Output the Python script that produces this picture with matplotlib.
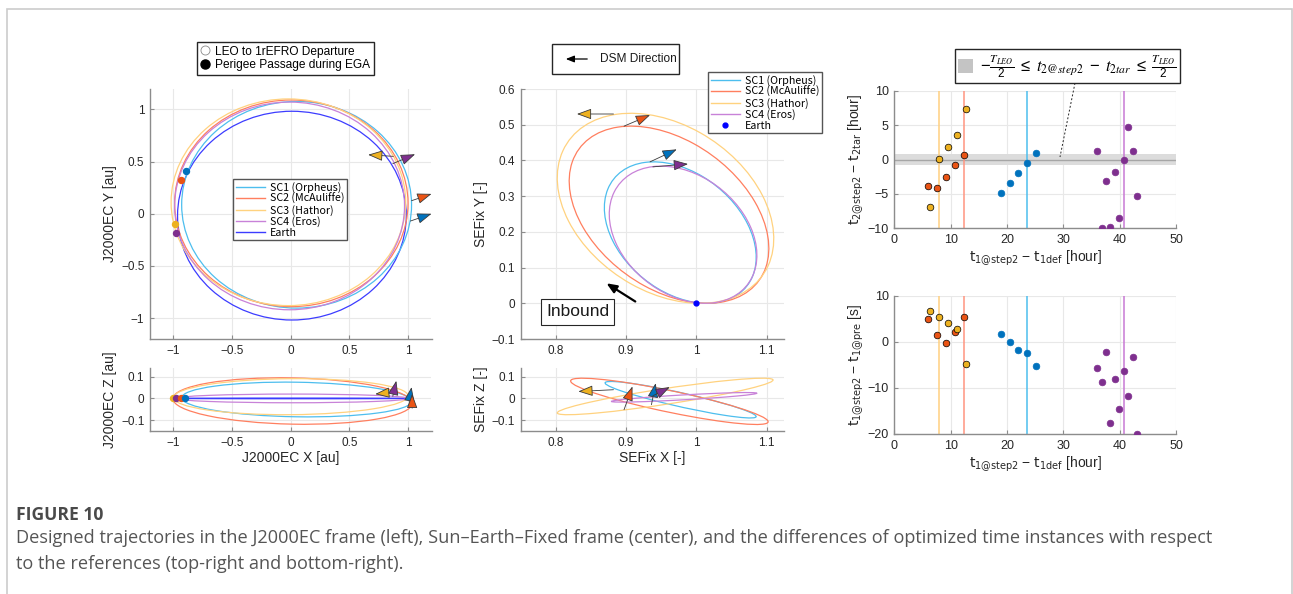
import numpy as np
import matplotlib
matplotlib.use('Agg')
import matplotlib.pyplot as plt
from matplotlib.patches import Ellipse, Rectangle, Patch, FancyArrowPatch
from matplotlib.lines import Line2D
from matplotlib.ticker import FuncFormatter

W, H = 1293, 594
plt.rcParams['font.family'] = ['Liberation Sans', 'DejaVu Sans']
plt.rcParams['mathtext.default'] = 'regular'

# ---------------- data ----------------
sc_names = ['SC1 (Orpheus)', 'SC2 (McAuliffe)', 'SC3 (Hathor)', 'SC4 (Eros)']

# orbit extents: centre x, centre y, half extent x, half extent y, tilt correlation
j2k_xy_cx = [0.05, 0.005, -0.02, -0.01]
j2k_xy_cy = [0.086, 0.10, 0.11, 0.075]
j2k_xy_rx = [0.98, 0.995, 1.00, 0.98]
j2k_xy_ry = [0.99, 0.99, 0.99, 0.995]
j2k_xy_rho = [0.0, 0.0, 0.0, 0.0]
earth_xy = [0.01, -0.018, 0.975, 1.0, 0.0]

j2k_xz_cx = [0.05, 0.015, 0.0, 0.01]
j2k_xz_cz = [-0.005, -0.012, 0.008, 0.0]
j2k_xz_rx = [0.98, 1.02, 1.0, 0.99]
j2k_xz_rz = [0.08, 0.107, 0.083, 0.02]
j2k_xz_rho = [-0.1, -0.1, 0.05, 0.0]
earth_xz = [0.01, 0.0, 0.975, 0.0015, 0.0]

sef_xy_cx = [0.977, 0.961, 0.956, 0.981]
sef_xy_cy = [0.198, 0.248, 0.266, 0.192]
sef_xy_rx = [0.108, 0.142, 0.154, 0.105]
sef_xy_ry = [0.198, 0.248, 0.266, 0.192]
sef_xy_rho = [-0.35, -0.38, -0.32, -0.30]

sef_xz_cx = [0.9775, 0.9615, 0.9555, 0.9825]
sef_xz_cz = [-0.006, -0.0135, 0.009, 0.005]
sef_xz_rx = [0.1075, 0.1405, 0.1535, 0.1035]
sef_xz_rz = [0.084, 0.1065, 0.084, 0.022]
sef_xz_rho = [-0.92, -0.88, 0.90, 0.86]

# perigee passage points (J2000EC)
peri_x = [-0.895, -0.935, -0.986, -0.975]
peri_y = [0.408, 0.32, -0.099, -0.18]
peri_z = [0.0, 0.0, 0.0, 0.0]
peri_xz_x = [-0.90, -0.935, -1.005, -0.977]

# DSM arrows: start x, start y, tip x, tip y
dsm_j2k_xy = [(1.02, -0.07, 1.2, 0.0), (1.03, 0.125, 1.2, 0.19),
              (0.875, 0.55, 0.66, 0.565), (0.87, 0.48, 1.06, 0.57)]
dsm_j2k_xz = [(1.01, -0.014, 1.03, 0.052), (1.035, -0.045, 1.035, 0.021),
              (0.90, 0.03, 0.72, 0.02), (0.87, 0.01, 0.90, 0.081)]
dsm_sef_xy = [(0.934, 0.396, 0.972, 0.431), (0.897, 0.496, 0.934, 0.527),
              (0.882, 0.530, 0.830, 0.530), (0.938, 0.382, 0.988, 0.390)]
dsm_sef_xz = [(0.936, -0.029, 0.942, 0.07), (0.897, -0.052, 0.909, 0.055),
              (0.882, 0.040, 0.832, 0.032), (0.938, 0.012, 0.962, 0.052)]

earth_sef = (1.0, 0.0)

# time differences
t1_sc1 = [18.9, 20.45, 22.0, 23.6, 25.2]
t1_sc2 = [6.0, 7.6, 9.2, 10.8, 12.3]
t1_sc3 = [6.35, 7.95, 9.55, 11.1, 12.7]
t1_sc4 = [36.0, 36.8, 37.6, 38.35, 39.2, 39.95, 40.75, 41.55, 42.3, 43.1]
dt2_sc1 = [-4.87, -3.46, -2.01, -0.46, 0.99]
dt2_sc2 = [-3.85, -4.14, -2.49, -0.85, 0.70]
dt2_sc3 = [-6.9, 0.12, 1.82, 3.51, 7.33]
dt2_sc4 = [1.28, -9.9, -3.17, -9.85, -1.82, -8.45, -0.12, 4.67, 1.19, -5.35]
dt1_sc1 = [1.69, -0.05, -1.86, -2.52, -5.33]
dt1_sc2 = [4.94, 1.39, -0.27, 2.12, 5.3]
dt1_sc3 = [6.67, 5.3, 3.99, 2.77, -4.76]
dt1_sc4 = [-5.77, -8.66, -2.16, -17.6, -8.15, -14.5, -6.27, -11.76, -3.31, -19.9]
ref_t1 = [23.6, 12.3, 8.0, 40.7]
half_T_leo = 0.75

# ---------------- styles ----------------
line_cols = ['#4DBEEE', '#FF7F5F', '#FFD27F', '#C882D8']
earth_line = '#3C3CFF'
dot_cols = ['#0072BD', '#EA5415', '#EDB120', '#7E2F8E']
vline_cols = ['#4DBEEE', '#FF9580', '#FFD080', '#C879D4']
dot_edges = [dot_cols[0], 'k', 'k', dot_cols[3]]
LBL = 10
legfont = dict(family=['Noto Sans CJK JP', 'DejaVu Sans'], size=7.7)

fig = plt.figure(figsize=(W / 100, H / 100), dpi=100)


def px_axes(x0, y0, x1, y1):
    return fig.add_axes([x0 / W, 1 - y1 / H, (x1 - x0) / W, (y1 - y0) / H])


fmt = FuncFormatter(lambda v, p: ('%g' % v).replace('-', '\u2212'))


def style(ax, xt, yt, xl, yl, ls=8.5):
    ax.set_xlim(*xl)
    ax.set_ylim(*yl)
    ax.set_xticks(xt)
    ax.set_yticks(yt)
    ax.xaxis.set_major_formatter(fmt)
    ax.yaxis.set_major_formatter(fmt)
    ax.grid(True, color='#e8e8e8', lw=0.8)
    ax.set_axisbelow(True)
    for s in ['top', 'right']:
        ax.spines[s].set_visible(False)
    for s in ['left', 'bottom']:
        ax.spines[s].set_color('#8c8c8c')
        ax.spines[s].set_linewidth(1.0)
    ax.tick_params(direction='in', length=3, color='#8c8c8c', labelcolor='#262626',
                   labelsize=ls, pad=4)


def ell(ax, cx, cy, rx, ry, rho, color, lw=0.9):
    M = np.array([[rx * rx, rho * rx * ry], [rho * rx * ry, ry * ry]])
    vals, vecs = np.linalg.eigh(M)
    i = int(np.argmax(vals))
    j = 1 - i
    ang = np.degrees(np.arctan2(vecs[1, i], vecs[0, i]))
    e = Ellipse((cx, cy), 2 * np.sqrt(vals[i]), 2 * np.sqrt(max(vals[j], 1e-12)), angle=ang,
                fill=False, ec=color, lw=lw)
    ax.add_patch(e)


def dsm(ax, arr, col):
    sx, sy, tx, ty = arr
    ax.annotate('', xy=(tx, ty), xytext=(sx, sy), annotation_clip=False,
                arrowprops=dict(arrowstyle='-|>,head_length=0.9,head_width=0.33',
                                fc=col, ec='#3a3a3a', lw=0.6, shrinkA=0, shrinkB=0,
                                mutation_scale=10))


axXY = px_axes(150, 88.5, 431.5, 339)
axXZ = px_axes(150, 368, 431.5, 431)
axSY = px_axes(520.7, 89, 784.3, 339)
axSZ = px_axes(520.7, 368, 784.3, 431)
axT = px_axes(894.3, 90.7, 1176, 228.3)
axB = px_axes(894.3, 295.7, 1176, 434)

# J2000EC XY
style(axXY, [-1, -0.5, 0, 0.5, 1], [-1, -0.5, 0, 0.5, 1], (-1.2, 1.2), (-1.2, 1.2))
ell(axXY, *earth_xy, earth_line)
for k in range(4):
    ell(axXY, j2k_xy_cx[k], j2k_xy_cy[k], j2k_xy_rx[k], j2k_xy_ry[k], j2k_xy_rho[k], line_cols[k])
for k in range(4):
    axXY.plot(peri_x[k], peri_y[k], 'o', ms=4.3, color=dot_cols[k], mec=dot_cols[k])
for k in [2, 3, 1, 0]:
    dsm(axXY, dsm_j2k_xy[k], dot_cols[k])
axXY.set_ylabel('J2000EC Y [au]', fontsize=LBL, color='#262626', labelpad=3)
hl = [Line2D([], [], color=c, lw=1) for c in line_cols] + [Line2D([], [], color=earth_line, lw=1)]
axXY.legend(hl, sc_names + ['Earth'], loc='upper left', bbox_to_anchor=(233 / W, 1 - 179 / H),
            bbox_transform=fig.transFigure, borderaxespad=0, fancybox=False, framealpha=1,
            edgecolor='#555555', prop=legfont,
            borderpad=0.25, labelspacing=0.05, handlelength=2.7, handletextpad=0.5)

# J2000EC XZ
style(axXZ, [-1, -0.5, 0, 0.5, 1], [-0.1, 0, 0.1], (-1.2, 1.2), (-0.15, 0.14))
ell(axXZ, *earth_xz, earth_line)
for k in range(4):
    ell(axXZ, j2k_xz_cx[k], j2k_xz_cz[k], j2k_xz_rx[k], j2k_xz_rz[k], j2k_xz_rho[k], line_cols[k])
for k in [2, 3, 1, 0]:
    axXZ.plot(peri_xz_x[k], peri_z[k], 'o', ms=4.3, color=dot_cols[k])
for k in [2, 3, 0, 1]:
    dsm(axXZ, dsm_j2k_xz[k], dot_cols[k])
axXZ.set_ylabel('J2000EC Z [au]', fontsize=LBL, color='#262626', labelpad=3)
axXZ.set_xlabel('J2000EC X [au]', fontsize=LBL, color='#262626', labelpad=2)

# SEFix XY
style(axSY, [0.8, 0.9, 1, 1.1], [-0.1, 0, 0.1, 0.2, 0.3, 0.4, 0.5, 0.6], (0.75, 1.125), (-0.1, 0.6))
for k in range(4):
    ell(axSY, sef_xy_cx[k], sef_xy_cy[k], sef_xy_rx[k], sef_xy_ry[k], sef_xy_rho[k], line_cols[k])
axSY.plot(*earth_sef, 'o', ms=3.5, color='#0000FF')
for k in range(4):
    dsm(axSY, dsm_sef_xy[k], dot_cols[k])
axSY.annotate('', xy=(0.872, 0.056), xytext=(0.913, 0.005),
              arrowprops=dict(arrowstyle='-|>,head_length=0.6,head_width=0.25', color='k', lw=1.6,
                              shrinkA=0, shrinkB=0))
axSY.text(0.831, -0.024, 'Inbound', fontsize=12.5, ha='center', va='center', color='#1a1a1a',
          bbox=dict(boxstyle='square,pad=0.3', fc='white', ec='#262626', lw=0.8))
axSY.set_ylabel('SEFix Y [-]', fontsize=LBL, color='#262626', labelpad=3)
hl2 = [Line2D([], [], color=c, lw=1) for c in line_cols] + \
      [Line2D([], [], color='#0000FF', marker='o', ms=3.5, ls='')]
axSY.legend(hl2, sc_names + ['Earth'], loc='upper left', bbox_to_anchor=(708 / W, 1 - 72 / H),
            bbox_transform=fig.transFigure, borderaxespad=0, fancybox=False, framealpha=1,
            edgecolor='#555555', prop=legfont,
            borderpad=0.25, labelspacing=0.05, handlelength=2.7, handletextpad=0.5)

# SEFix XZ
style(axSZ, [0.8, 0.9, 1, 1.1], [-0.1, 0, 0.1], (0.75, 1.125), (-0.15, 0.14))
for k in range(4):
    ell(axSZ, sef_xz_cx[k], sef_xz_cz[k], sef_xz_rx[k], sef_xz_rz[k], sef_xz_rho[k], line_cols[k])
for k in range(4):
    dsm(axSZ, dsm_sef_xz[k], dot_cols[k])
axSZ.set_ylabel('SEFix Z [-]', fontsize=LBL, color='#262626', labelpad=3)
axSZ.set_xlabel('SEFix X [-]', fontsize=LBL, color='#262626', labelpad=2)

# time plots
t1_all = [t1_sc1, t1_sc2, t1_sc3, t1_sc4]
dt2_all = [dt2_sc1, dt2_sc2, dt2_sc3, dt2_sc4]
dt1_all = [dt1_sc1, dt1_sc2, dt1_sc3, dt1_sc4]

style(axT, [0, 10, 20, 30, 40, 50], [-10, -5, 0, 5, 10], (0, 50), (-10, 10), ls=9)
axT.axhspan(-half_T_leo, half_T_leo, color='#dcdcdc', lw=0, zorder=1)
axT.axhline(0, color='#a6a6a6', lw=1, zorder=1.5)
for k in range(4):
    axT.axvline(ref_t1[k], color=vline_cols[k], lw=1.1, zorder=2)
for k in [1, 2, 0, 3]:
    axT.plot(t1_all[k], dt2_all[k], 'o', ls='', ms=4.8, color=dot_cols[k], mec=dot_edges[k],
             mew=0.5, zorder=3)
axT.set_xlabel(r'$\mathrm{t}_{\mathrm{1@step2}}$ $-$ $\mathrm{t}_{\mathrm{1def}}$ [hour]',
               fontsize=LBL, color='#262626', labelpad=2)
axT.set_ylabel(r'$\mathrm{t}_{\mathrm{2@step2}}$ $-$ $\mathrm{t}_{\mathrm{2tar}}$ [hour]',
               fontsize=LBL, color='#262626', labelpad=1)

style(axB, [0, 10, 20, 30, 40, 50], [-20, -10, 0, 10], (0, 50), (-20, 10), ls=9)
for k in range(4):
    axB.axvline(ref_t1[k], color=vline_cols[k], lw=1.1, zorder=2)
for k in [1, 2, 0, 3]:
    axB.plot(t1_all[k], dt1_all[k], 'o', ls='', ms=4.8, color=dot_cols[k], mec=dot_edges[k],
             mew=0.5, zorder=3)
axB.set_xlabel(r'$\mathrm{t}_{\mathrm{1@step2}}$ $-$ $\mathrm{t}_{\mathrm{1def}}$ [hour]',
               fontsize=LBL, color='#262626', labelpad=2)
axB.set_ylabel(r'$\mathrm{t}_{\mathrm{1@step2}}$ $-$ $\mathrm{t}_{\mathrm{1@pre}}$ [s]',
               fontsize=LBL, color='#262626', labelpad=1)

# legend of the band
fig.legend([Patch(fc='#c4c4c4', ec='none')],
           [r'$-\frac{\mathit{T_{LEO}}}{2}\ \leq\ \mathit{t_{2@step2}}\ -\ \mathit{t_{2tar}}'
            r'\ \leq\ \frac{\mathit{T_{LEO}}}{2}$'],
           loc='upper left', bbox_to_anchor=(955 / W, 1 - 49 / H), borderaxespad=0,
           fancybox=False, framealpha=1, edgecolor='#262626',
           prop=dict(size=12, math_fontfamily='stix'), borderpad=0.2,
           handlelength=0.9, handleheight=0.9, handletextpad=0.4)
fig.add_artist(Line2D([1075 / W, 1060 / W], [1 - 83 / H, 1 - 157 / H], transform=fig.transFigure,
                      ls=(0, (2, 2)), color='#262626', lw=0.7))

# header legend (left)
fig.legend([Line2D([], [], marker='o', ls='', ms=6.5, mfc='white', mec='#8a8a8a', mew=0.6),
            Line2D([], [], marker='o', ls='', ms=6.5, color='k')],
           ['LEO to 1rEFRO Departure', 'Perigee Passage during EGA'],
           loc='upper left', bbox_to_anchor=(197 / W, 1 - 42 / H), borderaxespad=0,
           fancybox=False, framealpha=1, edgecolor='#262626', prop=dict(size=8.6),
           borderpad=0.3, labelspacing=0.12, handlelength=0.8, handletextpad=0.4)

# DSM direction box
fig.add_artist(Rectangle((552 / W, 1 - 74 / H), 127 / W, 30 / H, transform=fig.transFigure,
                         fill=True, fc='white', ec='#262626', lw=1))
fig.add_artist(FancyArrowPatch((590 / W, 1 - 59 / H), (563 / W, 1 - 59 / H),
                               transform=fig.transFigure,
                               arrowstyle='-|>,head_length=0.5,head_width=0.2',
                               color='k', lw=0.9, mutation_scale=10))
fig.text(600 / W, 1 - 59 / H, 'DSM Direction', fontsize=8.6, va='center', ha='left', color='#1a1a1a')

# outer frame
fig.add_artist(Rectangle((7 / W, -0.05), 1285 / W, 1.05 - 9 / H, transform=fig.transFigure,
                         fill=False, ec='#cccccc', lw=1.2))

# caption
fig.text(16 / W, 1 - 515 / H, 'FIGURE 10', fontsize=12.6, weight='bold', color='#4a4a4a',
         family=['Open Sans', 'DejaVu Sans'], va='center')
fig.text(16 / W, 1 - 538 / H,
         'Designed trajectories in the J2000EC frame (left), Sun\u2013Earth\u2013Fixed frame (center), '
         'and the differences of optimized time instances with respect',
         fontsize=13.1, color='#555555', family=['Open Sans', 'DejaVu Sans'], va='center')
fig.text(16 / W, 1 - 564 / H, 'to the references (top-right and bottom-right).',
         fontsize=13.1, color='#555555', family=['Open Sans', 'DejaVu Sans'], va='center')

fig.savefig('out.png', dpi=100)
